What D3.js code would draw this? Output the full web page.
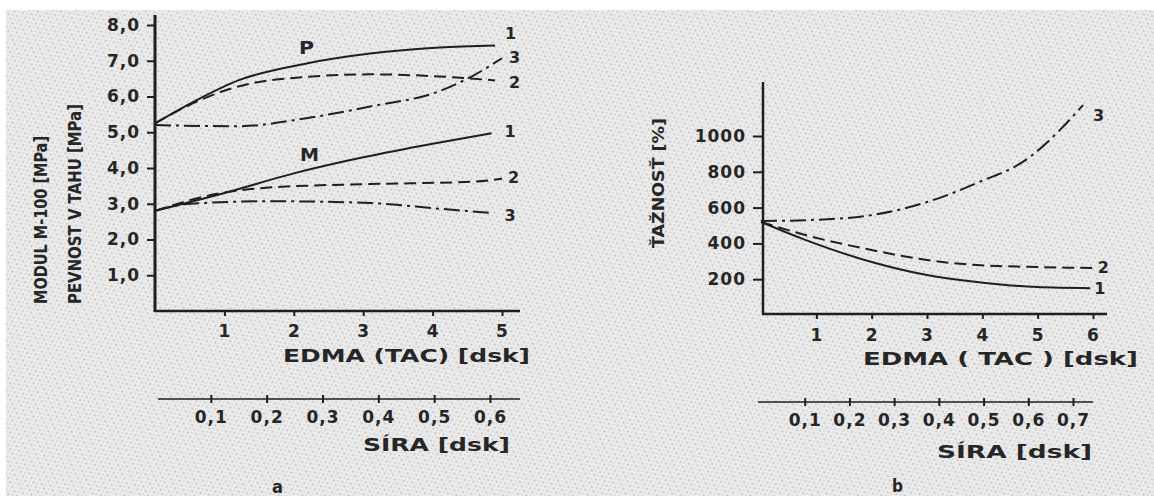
<!DOCTYPE html>
<html>
<head>
<meta charset="utf-8">
<script src="https://cdn.jsdelivr.net/npm/d3@7"></script>
<style>
  body { margin: 0; background: #fff; }
  svg { display: block; }
  text { font-family: "DejaVu Sans", sans-serif; fill: #262626; }
</style>
</head>
<body>
<div class="chart"></div>
<script>
const W = 1154;
const H = 496;

// ---- data ----
// panel a: EDMA (TAC) [dsk] vs MPa
const pEdma1 = [0, 0.65, 1.2, 2.2, 3.1, 4.1, 4.9];
const pVal1 = [5.25, 5.95, 6.45, 6.93, 7.2, 7.37, 7.43];
const pEdma2 = [0, 0.65, 1.2, 2.2, 3.1, 4.1, 4.9];
const pVal2 = [5.25, 5.9, 6.28, 6.55, 6.62, 6.56, 6.45];
const pEdma3 = [0, 1.2, 2.2, 3.1, 4.1, 4.6, 5.0];
const pVal3 = [5.2, 5.17, 5.4, 5.72, 6.15, 6.6, 7.07];
const mEdma1 = [0, 1, 2, 3, 4, 4.85];
const mVal1 = [2.8, 3.3, 3.85, 4.3, 4.68, 4.97];
const mEdma2 = [0, 0.75, 1.7, 3.1, 4.6, 5.0];
const mVal2 = [2.8, 3.22, 3.46, 3.55, 3.62, 3.7];
const mEdma3 = [0, 0.5, 1.7, 3.1, 4.1, 4.85];
const mVal3 = [2.8, 3.0, 3.07, 3.02, 2.86, 2.74];

const yTicksA = [1, 2, 3, 4, 5, 6, 7, 8];
const xTicksA = [1, 2, 3, 4, 5];
const siraTicksA = [0.1, 0.2, 0.3, 0.4, 0.5, 0.6];

// panel b: EDMA (TAC) [dsk] vs elongation %
const tEdma1 = [0, 0.8, 2, 3, 3.9, 5, 5.95];
const tVal1 = [520, 420, 296, 223, 184, 156, 150];
const tEdma2 = [0, 0.8, 2, 3, 3.9, 5, 6.05];
const tVal2 = [520, 447, 363, 307, 279, 268, 262];
const tEdma3 = [0, 0.83, 2, 3, 3.9, 4.86, 5.4, 5.82];
const tVal3 = [525, 530, 558, 631, 737, 883, 1033, 1173];

const yTicksB = [200, 400, 600, 800, 1000];
const xTicksB = [1, 2, 3, 4, 5, 6];
const siraTicksB = [0.1, 0.2, 0.3, 0.4, 0.5, 0.6, 0.7];

// ---- line styles ----
const dashes = { solid: null, dashed: "12,6", dashdot: "16,5,3,5" };
const comma = (d) => d3.format(".1f")(d).replace(".", ",");
const whole = d3.format("d");

const svg = d3
  .select(".chart")
  .append("svg")
  .attr("width", W)
  .attr("height", H);

// speckled paper background
const defs = svg.append("defs");
const pat = defs
  .append("pattern")
  .attr("id", "paper")
  .attr("width", 7)
  .attr("height", 5)
  .attr("patternUnits", "userSpaceOnUse")
  .attr("patternTransform", "rotate(-25)");
pat.append("rect").attr("width", 7).attr("height", 5).attr("fill", "#ebebeb");
pat.append("circle").attr("cx", 1.5).attr("cy", 1.5).attr("r", 1).attr("fill", "#bdbdbd");
pat.append("circle").attr("cx", 5).attr("cy", 3.8).attr("r", 0.8).attr("fill", "#cacaca");

svg.append("rect").attr("x", 6).attr("y", 10).attr("width", W - 6).attr("height", H - 10).attr("fill", "url(#paper)");

const line = (x, y) =>
  d3
    .line()
    .x((d) => x(d[0]))
    .y((d) => y(d[1]))
    .curve(d3.curveMonotoneX);

function drawSeries(g, x, y, xs, ys, style, label, dx, dy) {
  const pts = xs.map((v, i) => [v, ys[i]]);
  g.append("path")
    .datum(pts)
    .attr("d", line(x, y))
    .attr("fill", "none")
    .attr("stroke", "#1f1f1f")
    .attr("stroke-width", 2)
    .attr("stroke-dasharray", dashes[style]);
  const last = pts[pts.length - 1];
  g.append("text")
    .attr("x", x(last[0]) + dx)
    .attr("y", y(last[1]) + dy)
    .style("font-size", "16px")
    .style("font-weight", "bold")
    .text(label);
}

function axisLine(g, x1, y1, x2, y2, w) {
  g.append("line")
    .attr("x1", x1).attr("y1", y1)
    .attr("x2", x2).attr("y2", y2)
    .attr("stroke", "#1f1f1f")
    .attr("stroke-width", w);
}

function styleAxis(sel, size) {
  sel.select(".domain").remove();
  sel.selectAll(".tick line").attr("stroke", "#1f1f1f").attr("stroke-width", 2);
  sel.selectAll(".tick text")
    .style("fill", "#262626")
    .style("font-family", "DejaVu Sans, sans-serif")
    .style("font-weight", "bold")
    .style("font-size", size + "px")
    .style("letter-spacing", "1px");
}

function label(g, x, y, size, len, txt, rot) {
  const t = g.append("text")
    .style("font-size", size + "px")
    .style("font-weight", "bold")
    .attr("textLength", len)
    .attr("lengthAdjust", "spacingAndGlyphs")
    .text(txt);
  if (rot) t.attr("transform", `translate(${x},${y}) rotate(-90)`);
  else t.attr("x", x).attr("y", y);
  return t;
}

// ================= panel a =================
const ga = svg.append("g");
const xA = d3.scaleLinear().domain([0, 5]).range([155, 502]);
const yA = d3.scaleLinear().domain([0, 8]).range([311, 25]);
const sA = d3.scaleLinear().domain([0, 0.6]).range([155, 490]);

ga.append("g")
  .attr("transform", "translate(155,0)")
  .call(d3.axisLeft(yA).tickValues(yTicksA).tickFormat(comma).tickSize(8).tickPadding(7))
  .call((s) => styleAxis(s, 17));
ga.append("g")
  .attr("transform", "translate(0,311)")
  .call(d3.axisBottom(xA).tickValues(xTicksA).tickFormat(whole).tickSize(5).tickPadding(9))
  .call((s) => styleAxis(s, 17));
axisLine(ga, 155, 15, 155, 312, 3);
axisLine(ga, 154, 311, 520, 311, 2.5);

ga.append("g")
  .attr("transform", "translate(0,399)")
  .call(d3.axisBottom(sA).tickValues(siraTicksA).tickFormat(comma).tickSize(4).tickPadding(8))
  .call((s) => styleAxis(s, 17))
  .call((s) => s.selectAll(".tick line").attr("y1", -4));
axisLine(ga, 158, 399, 520, 399, 1.5);

drawSeries(ga, xA, yA, pEdma1, pVal1, "solid", "1", 10, -6);
drawSeries(ga, xA, yA, pEdma2, pVal2, "dashed", "2", 14, 8);
drawSeries(ga, xA, yA, pEdma3, pVal3, "dashdot", "3", 7, 5);
drawSeries(ga, xA, yA, mEdma1, mVal1, "solid", "1", 13, 4);
drawSeries(ga, xA, yA, mEdma2, mVal2, "dashed", "2", 6, 4);
drawSeries(ga, xA, yA, mEdma3, mVal3, "dashdot", "3", 13, 8);

label(ga, 299, 54, 17, 15, "P");
label(ga, 300, 161, 17, 19, "M");

label(ga, 47, 304, 17, 168, "MODUL M-100 [MPa]", true);
label(ga, 81, 304, 17, 200, "PEVNOST V TAHU [MPa]", true);

label(ga, 283, 362, 17, 247, "EDMA  (TAC)  [dsk]");
label(ga, 363, 451, 17, 147, "SÍRA [dsk]");
label(ga, 272, 493, 17, 11, "a");

// ================= panel b =================
const gb = svg.append("g");
const xB = d3.scaleLinear().domain([0, 6]).range([761, 1093]);
const yB = d3.scaleLinear().domain([0, 1000]).range([315, 136]);
const sB = d3.scaleLinear().domain([0, 0.7]).range([760, 1073]);

gb.append("g")
  .attr("transform", "translate(763,0)")
  .call(d3.axisLeft(yB).tickValues(yTicksB).tickFormat(whole).tickSize(10).tickPadding(7))
  .call((s) => styleAxis(s, 17));
gb.append("g")
  .attr("transform", "translate(0,314)")
  .call(d3.axisBottom(xB).tickValues(xTicksB).tickFormat(whole).tickSize(5).tickPadding(10))
  .call((s) => styleAxis(s, 17));
axisLine(gb, 763, 82, 763, 315, 2.5);
axisLine(gb, 762, 314, 1107, 314, 2.5);

gb.append("g")
  .attr("transform", "translate(0,402)")
  .call(d3.axisBottom(sB).tickValues(siraTicksB).tickFormat(comma).tickSize(4).tickPadding(8))
  .call((s) => styleAxis(s, 17))
  .call((s) => s.selectAll(".tick line").attr("y1", -4));
axisLine(gb, 758, 402, 1093, 402, 1.5);

drawSeries(gb, xB, yB, tEdma1, tVal1, "solid", "1", 4, 6);
drawSeries(gb, xB, yB, tEdma2, tVal2, "dashed", "2", 2, 5);
drawSeries(gb, xB, yB, tEdma3, tVal3, "dashdot", "3", 10, 16);

label(gb, 664, 248, 15, 130, "ŤAŽNOSŤ [%]", true);

label(gb, 863, 365, 17, 275, "EDMA  ( TAC )  [dsk]");
label(gb, 937, 458, 17, 155, "SÍRA [dsk]");
label(gb, 892, 492, 17, 11, "b");
</script>
</body>
</html>
